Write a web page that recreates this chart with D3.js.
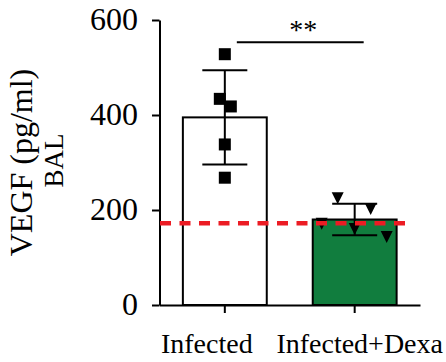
<!DOCTYPE html>
<html>
<head>
<meta charset="utf-8">
<script src="https://cdn.jsdelivr.net/npm/d3@7"></script>
<style>
  html, body { margin: 0; padding: 0; background: #fff; }
  svg { display: block; }
</style>
</head>
<body>
<div id="chart"></div>
<script>
// chart values
var categories   = ['Infected', 'Infected+Dexa'];
var barMeans     = [395, 180];
var barSD        = [99, 33];
var infectedPts  = [528, 434, 418, 338, 268];
var dexaPts      = [225, 202, 171, 160, 143];
var yTicks       = [0, 200, 400, 600];
var baselineLvl  = 172;   // red dashed reference
var sigLabel     = '**';
var sigLevel     = 553;

// layout config
var config = {};
config.width    = 446;
config.height   = 362;
config.font     = 'Liberation Serif, Times New Roman, serif';
config.green    = '#117d3e';
config.red      = '#ec1c24';
config.axisX    = 159.5;
config.xEnd     = 420;
config.yTop     = 20;
config.yBottom  = 305;

var svg = d3.select('#chart')
    .append('svg')
    .attr('width', config.width)
    .attr('height', config.height)
    .attr('font-family', config.font);

var y = d3.scaleLinear()
    .domain([0, 600])
    .range([config.yBottom, config.yTop]);

var x = d3.scaleBand()
    .domain(categories)
    .range([config.axisX, config.xEnd])
    .paddingInner(0.354)
    .paddingOuter(0.18);

var bw = x.bandwidth();
function cx(c){ return x(c) + bw / 2; }

//bars
svg.append('g')
    .selectAll('rect')
    .data(categories)
    .enter()
    .append('rect')
    .attr('x', function(d){ return x(d); })
    .attr('y', function(d, i){ return y(barMeans[i]); })
    .attr('width', bw)
    .attr('height', function(d, i){ return y(0) - y(barMeans[i]); })
    .attr('fill', function(d, i){ return i == 0 ? '#fff' : config.green; })
    .attr('stroke', '#000')
    .attr('stroke-width', 2);

//error bars
var capW = 45;
var err = svg.append('g').attr('stroke', '#000').attr('stroke-width', 2);
categories.forEach(function(c, i){
    var hi = y(barMeans[i] + barSD[i]), lo = y(barMeans[i] - barSD[i]);
    err.append('line').attr('x1', cx(c)).attr('x2', cx(c)).attr('y1', hi).attr('y2', lo);
    err.append('line').attr('x1', cx(c) - capW/2).attr('x2', cx(c) + capW/2).attr('y1', hi).attr('y2', hi);
    err.append('line').attr('x1', cx(c) - capW/2).attr('x2', cx(c) + capW/2).attr('y1', lo).attr('y2', lo);
});

//points (horizontal scatter offsets in px)
var infJitter  = [0, -5, 6, 0, 0];
var dexaJitter = [-17, 16, -33, 0, 32];

svg.append('g')
    .selectAll('rect')
    .data(infectedPts)
    .enter()
    .append('rect')
    .attr('x', function(d, i){ return cx(categories[0]) + infJitter[i] - 6; })
    .attr('y', function(d){ return y(d) - 6; })
    .attr('width', 12)
    .attr('height', 12)
    .attr('fill', '#000');

svg.append('g')
    .selectAll('path')
    .data(dexaPts)
    .enter()
    .append('path')
    .attr('d', 'M-6,-6L6,-6L0,6Z')
    .attr('transform', function(d, i){
        return 'translate(' + (cx(categories[1]) + dexaJitter[i]) + ',' + y(d) + ')';
    })
    .attr('fill', '#000');

//axes
var yAxis = svg.append('g')
    .attr('transform', 'translate(' + config.axisX + ',0)')
    .call(d3.axisLeft(y).tickValues(yTicks).tickSize(7.5).tickSizeOuter(0).tickPadding(14));
yAxis.attr('font-family', config.font).attr('font-size', 32);
yAxis.select('.domain').attr('stroke-width', 2);
yAxis.selectAll('.tick line').attr('stroke-width', 2);
yAxis.selectAll('.tick text')
    .attr('fill', '#000')
    .attr('dy', '0.3em');

var labelShift = [-18, 5];
var xAxis = svg.append('g')
    .attr('transform', 'translate(0,' + config.yBottom + ')')
    .call(d3.axisBottom(x).tickSize(8).tickSizeOuter(0).tickPadding(20));
xAxis.attr('font-family', config.font).attr('font-size', 28);
xAxis.select('.domain').attr('stroke-width', 2);
xAxis.selectAll('.tick line').attr('stroke-width', 2);
xAxis.selectAll('.tick text')
    .attr('fill', '#000')
    .attr('dy', '0.71em')
    .attr('dx', function(d, i){ return labelShift[i]; });

//y axis title
var ty = (config.yTop + config.yBottom) / 2;
svg.append('text')
    .attr('transform', 'translate(32,' + ty + ') rotate(-90)')
    .attr('text-anchor', 'middle')
    .attr('font-size', 32)
    .text('VEGF (pg/ml)');
svg.append('text')
    .attr('transform', 'translate(63,' + (ty - 2) + ') rotate(-90)')
    .attr('text-anchor', 'middle')
    .attr('font-size', 27)
    .text('BAL');

//red dashed reference line
svg.append('line')
    .attr('x1', config.axisX + 0.5)
    .attr('x2', x(categories[1]) + bw + 10)
    .attr('y1', y(baselineLvl))
    .attr('y2', y(baselineLvl))
    .attr('stroke', config.red)
    .attr('stroke-width', 4.5)
    .attr('stroke-dasharray', '11,8.5');

//significance
var s1 = cx(categories[0]) + 12, s2 = cx(categories[1]) + 9;
svg.append('line')
    .attr('x1', s1).attr('x2', s2)
    .attr('y1', y(sigLevel)).attr('y2', y(sigLevel))
    .attr('stroke', '#000')
    .attr('stroke-width', 2);
svg.append('text')
    .attr('x', (s1 + s2) / 2 + 3)
    .attr('y', y(sigLevel) - 3)
    .attr('text-anchor', 'middle')
    .attr('font-size', 28)
    .text(sigLabel);
</script>
</body>
</html>
